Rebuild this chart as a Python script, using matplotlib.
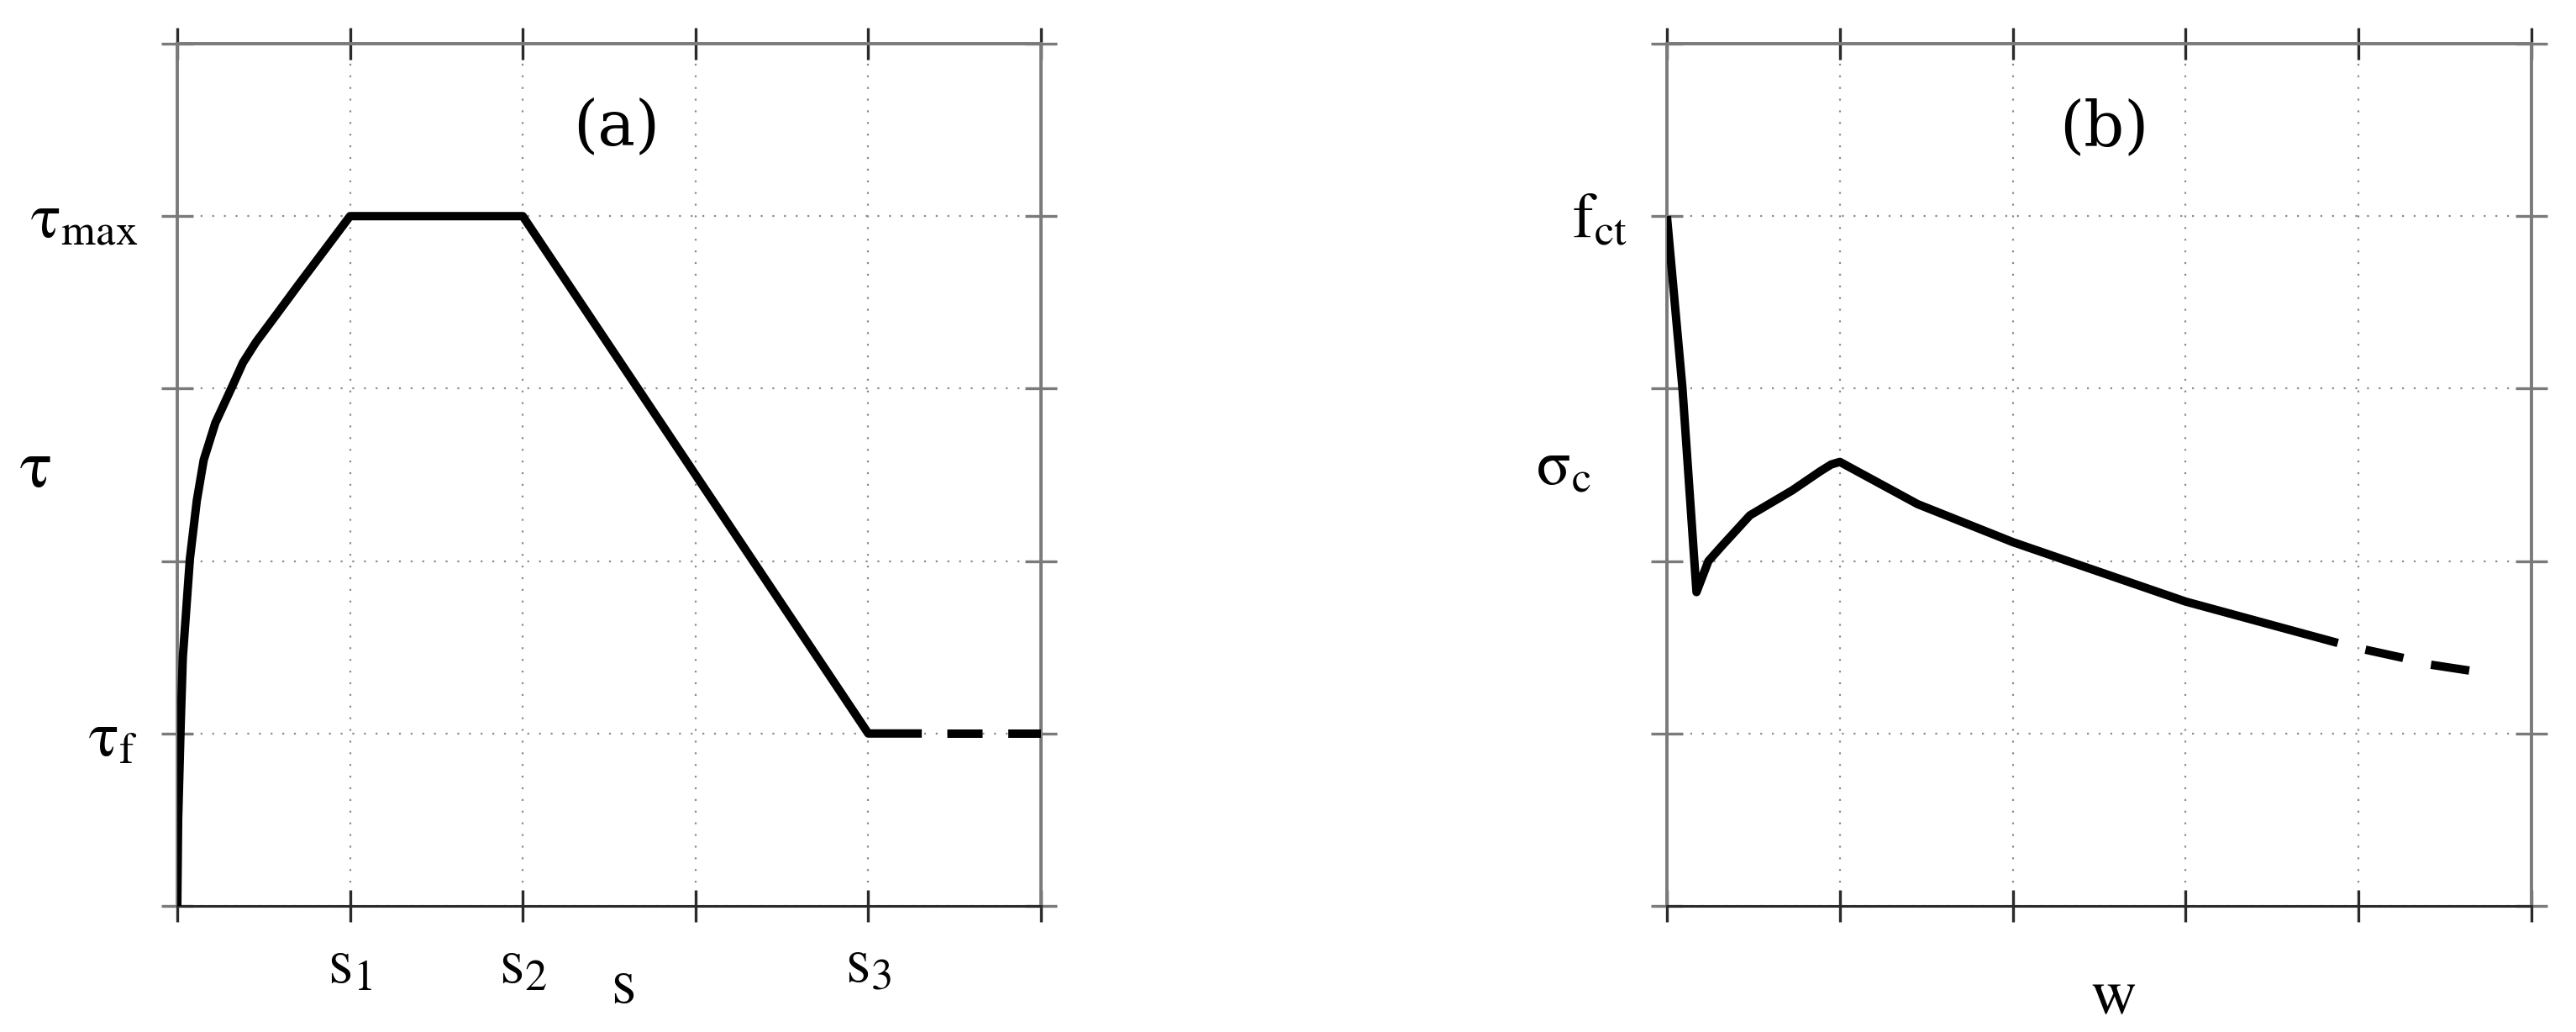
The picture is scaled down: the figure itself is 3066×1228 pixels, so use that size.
import matplotlib
matplotlib.use("Agg")
import matplotlib.pyplot as plt

plt.rcParams['mathtext.fontset'] = 'stix'
plt.rcParams['font.family'] = ['STIXGeneral', 'Liberation Serif', 'DejaVu Serif']
plt.rcParams['lines.scale_dashes'] = False

# ---------------- data ----------------
# panel (a): bond stress - slip
s_a = [0, 0.005, 0.02, 0.032, 0.073, 0.113, 0.153, 0.22, 0.315, 0.38, 0.456, 0.56, 0.7, 1.0, 2.0, 4.0, 4.31]
tau_a = [0, 0.5, 1.058, 1.44, 2.013, 2.35, 2.586, 2.80, 3.006, 3.15, 3.27, 3.41, 3.60, 4.0, 4.0, 1.0, 1.0]
s_tail = [4.31, 5.0]
tau_tail = [1.0, 1.0]
xticks_a = [1, 2, 4]
xticklabels_a = [r'$\mathrm{s}_1$', r'$\mathrm{s}_2$', r'$\mathrm{s}_3$']
yticks_a = [1, 4]
yticklabels_a = [r'$\mathrm{\tau}_\mathrm{f}$', r'$\mathrm{\tau}_{\mathrm{max}}$']

# panel (b): cohesive stress - crack opening
w_b = [0, 0.09, 0.171, 0.24, 0.32, 0.48, 0.725, 0.886, 0.95, 1.0, 1.45, 2.0, 3.0, 3.88]
sig_b = [4.0, 3.0, 1.82, 2.0, 2.09, 2.265, 2.41, 2.52, 2.56, 2.575, 2.33, 2.11, 1.765, 1.525]
w_tail = [3.88, 4.04, 4.25, 4.41, 4.64]
sig_tail = [1.525, 1.486, 1.44, 1.40, 1.365]
yticks_b = [4]
yticklabels_b = [r'$\mathrm{f}_{\mathrm{ct}}$']

grid_ticks = [0, 1, 2, 3, 4, 5]

# ---------------- figure ----------------
W, H = 3066, 1228
dpi = 200
fig = plt.figure(figsize=(W / dpi, H / dpi), dpi=dpi)
fig.patch.set_facecolor('white')

ax_a = fig.add_axes([211 / W, 1 - 1078 / H, 1028 / W, 1026 / H])
ax_b = fig.add_axes([1984 / W, 1 - 1078 / H, 1029 / W, 1026 / H])

frame_col = '#7a7a7a'
dark_col = '#2a2a2a'
LW = 3.6
FS = 27


def style(ax):
    ax.set_xlim(0, 5)
    ax.set_ylim(0, 5)
    for side in ['left', 'right', 'top']:
        ax.spines[side].set_color(frame_col)
        ax.spines[side].set_linewidth(1.4)
    ax.spines['bottom'].set_color(dark_col)
    ax.spines['bottom'].set_linewidth(1.1)
    ax.set_xticks(grid_ticks)
    ax.set_yticks(grid_ticks)
    ax.tick_params(axis='both', which='both', direction='inout', length=14,
                   width=1.2, top=True, right=True, labelsize=FS)
    ax.tick_params(axis='x', colors=dark_col, labelcolor='black', pad=7)
    ax.tick_params(axis='y', colors=frame_col, labelcolor='black', pad=10)
    ax.grid(True, color='#8a8a8a', linewidth=0.8, linestyle=(0, (0.8, 4.2)))
    ax.set_axisbelow(True)


for ax in (ax_a, ax_b):
    style(ax)

# panel (a)
ax_a.plot(s_a, tau_a, color='black', lw=LW, solid_joinstyle='round', solid_capstyle='butt', zorder=3)
ax_a.plot(s_tail, tau_tail, color='black', lw=LW, linestyle=(15.1, (15.1, 11.0)),
          dash_capstyle='butt', zorder=3, clip_on=False)
labels_x = {t: l for t, l in zip(xticks_a, xticklabels_a)}
ax_a.set_xticklabels([labels_x.get(t, '') for t in grid_ticks])
labels_y = {t: l for t, l in zip(yticks_a, yticklabels_a)}
ax_a.set_yticklabels([labels_y.get(t, '') for t in grid_ticks])
ax_a.set_xlabel(r'$\mathrm{s}$', fontsize=FS, va='center')
ax_a.xaxis.set_label_coords(0.516, -0.095)
ax_a.set_ylabel(r'$\mathrm{\tau}$', fontsize=FS + 2, rotation=0, va='center', ha='center')
ax_a.yaxis.set_label_coords(-0.165, 0.505)
ax_a.text(2.54, 4.515, '(a)', fontsize=27, ha='center', va='center',
          family=['DejaVu Serif'])

# panel (b)
ax_b.plot(w_b, sig_b, color='black', lw=LW, solid_joinstyle='round', solid_capstyle='butt', zorder=3)
ax_b.plot(w_tail, sig_tail, color='black', lw=LW, linestyle=(16.6, (16.6, 12.2)),
          dash_capstyle='butt', zorder=3)
ax_b.set_xticklabels(['' for t in grid_ticks])
labels_yb = {t: l for t, l in zip(yticks_b, yticklabels_b)}
ax_b.set_yticklabels([labels_yb.get(t, '') for t in grid_ticks])
ax_b.set_xlabel(r'$\mathrm{w}$', fontsize=FS, va='center')
ax_b.xaxis.set_label_coords(0.516, -0.108)
ax_b.set_ylabel(r'$\mathrm{\sigma}_\mathrm{c}$', fontsize=FS, rotation=0, va='center', ha='center')
ax_b.yaxis.set_label_coords(-0.12, 0.506)
ax_b.text(2.53, 4.51, '(b)', fontsize=27, ha='center', va='center',
          family=['DejaVu Serif'])

fig.savefig('out.png', dpi=dpi, facecolor='white')
